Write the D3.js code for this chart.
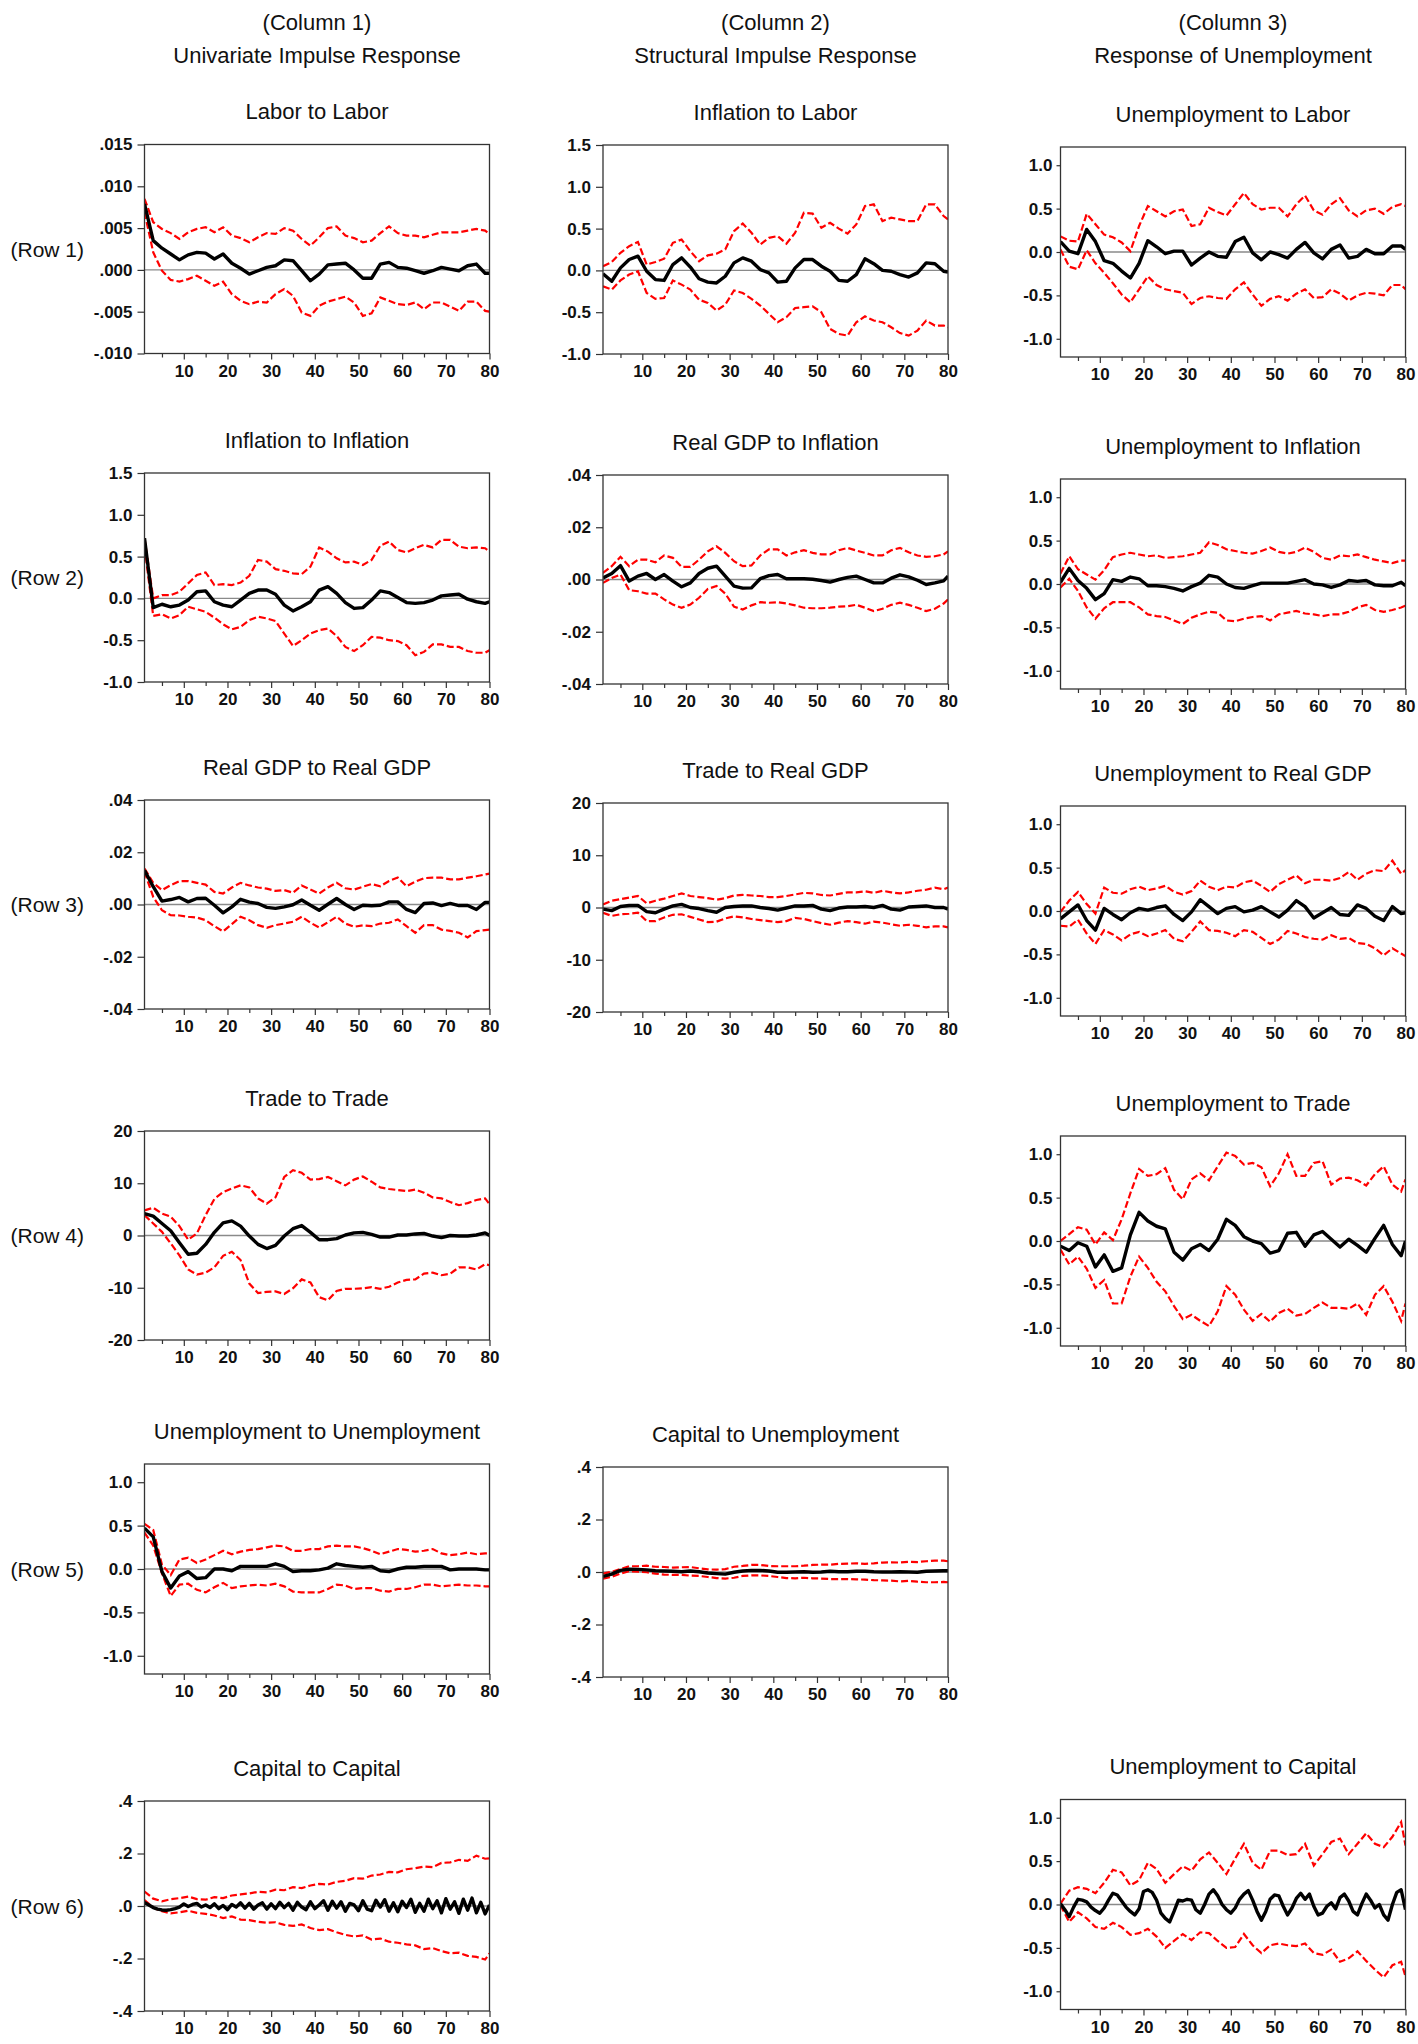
<!DOCTYPE html>
<html>
<head>
<meta charset="utf-8">
<script src="https://cdn.jsdelivr.net/npm/d3@7"></script>
<style>
  body { margin: 0; background: #fff; }
  svg { display: block; background: #fff; }
</style>
</head>
<body>
<svg id="chart" width="1418" height="2044"></svg>
<script>
// horizon grids: most series are read every second period, the zigzag ones every period
const periods = [1,3,5,7,9,11,13,15,17,19,21,23,25,27,29,31,33,35,37,39,41,43,45,47,49,51,53,55,57,59,61,63,65,67,69,71,73,75,77,79,80];
const periodsAll = [1,2,3,4,5,6,7,8,9,10,11,12,13,14,15,16,17,18,19,20,21,22,23,24,25,26,27,28,29,30,31,32,33,34,35,36,37,38,39,40,
  41,42,43,44,45,46,47,48,49,50,51,52,53,54,55,56,57,58,59,60,61,62,63,64,65,66,67,68,69,70,71,72,73,74,75,76,77,78,79,80];
const xTicks = [5,10,15,20,25,30,35,40,45,50,55,60,65,70,75,80];

const columnHeads = ["(Column 1)", "(Column 2)", "(Column 3)"];
const columnNames = ["Univariate Impulse Response", "Structural Impulse Response", "Response of Unemployment"];
const rowNames = ["(Row 1)", "(Row 2)", "(Row 3)", "(Row 4)", "(Row 5)", "(Row 6)"];

// Row 1
const laborLabor = [.0079,.0035,.0026,.0019,.0012,.0018,.0021,.0020,.0013,.0019,.0008,.0002,-.0005,-.0001,.0003,.0005,.0012,.0011,-.0001,-.0013,
  -.0005,.0006,.0007,.0008,.0000,-.0010,-.0010,.0007,.0009,.0003,.0002,-.0001,-.0004,-.0001,.0003,.0001,-.0001,.0005,.0007,-.0004,-.0004];
const laborLaborUp = [.0085,.0057,.0049,.0044,.0037,.0045,.0049,.0051,.0045,.0051,.0041,.0038,.0033,.0039,.0044,.0043,.0050,.0047,.0037,.0029,
  .0039,.0050,.0052,.0041,.0038,.0033,.0035,.0044,.0052,.0044,.0041,.0041,.0039,.0042,.0045,.0045,.0045,.0047,.0049,.0047,.0043];
const laborLaborLo = [.0069,.0021,-.0001,-.0012,-.0014,-.0011,-.0007,-.0013,-.0019,-.0014,-.0029,-.0037,-.0041,-.0038,-.0039,-.0029,-.0023,-.0031,-.0051,-.0055,
  -.0043,-.0038,-.0035,-.0032,-.0039,-.0055,-.0052,-.0033,-.0037,-.0041,-.0042,-.0039,-.0047,-.0039,-.0039,-.0044,-.0049,-.0038,-.0038,-.0049,-.0050];

const inflLabor = [-0.04,-0.13,0.03,0.13,0.17,-0.01,-0.11,-0.12,0.07,0.15,0.04,-0.10,-0.14,-0.15,-0.07,0.09,0.15,0.11,0.01,-0.03,
  -0.14,-0.13,0.03,0.13,0.13,0.05,-0.01,-0.12,-0.13,-0.05,0.14,0.08,0.0,-0.01,-0.05,-0.08,-0.03,0.09,0.08,-0.01,-0.02];
const inflLaborUp = [0.05,0.10,0.21,0.29,0.34,0.07,0.10,0.14,0.33,0.37,0.23,0.11,0.18,0.20,0.25,0.47,0.56,0.45,0.31,0.39,
  0.41,0.32,0.45,0.69,0.68,0.51,0.57,0.50,0.44,0.55,0.77,0.79,0.59,0.63,0.61,0.59,0.59,0.79,0.79,0.65,0.61];
const inflLaborLo = [-0.19,-0.23,-0.12,-0.05,-0.01,-0.27,-0.34,-0.33,-0.12,-0.17,-0.23,-0.35,-0.39,-0.48,-0.41,-0.24,-0.27,-0.34,-0.42,-0.52,
  -0.62,-0.56,-0.45,-0.44,-0.43,-0.50,-0.70,-0.76,-0.78,-0.62,-0.55,-0.60,-0.62,-0.68,-0.75,-0.78,-0.72,-0.60,-0.66,-0.66,-0.68];

const unempLabor = [0.12,0.01,-0.02,0.26,0.12,-0.10,-0.13,-0.22,-0.30,-0.13,0.13,0.06,-0.02,0.01,0.01,-0.15,-0.07,0.0,-0.05,-0.06,
  0.12,0.17,-0.01,-0.09,0.0,-0.03,-0.07,0.03,0.11,-0.01,-0.08,0.03,0.08,-0.07,-0.05,0.03,-0.02,-0.02,0.07,0.07,0.03];
const unempLaborUp = [0.18,0.13,0.12,0.44,0.32,0.20,0.17,0.11,0.01,0.30,0.53,0.47,0.41,0.47,0.49,0.30,0.32,0.51,0.46,0.42,
  0.55,0.68,0.55,0.49,0.51,0.51,0.41,0.55,0.65,0.48,0.43,0.55,0.62,0.48,0.41,0.48,0.50,0.44,0.52,0.55,0.53];
const unempLaborLo = [0.03,-0.17,-0.20,0.02,-0.13,-0.24,-0.36,-0.49,-0.58,-0.43,-0.28,-0.38,-0.43,-0.45,-0.47,-0.60,-0.53,-0.51,-0.53,-0.54,
  -0.43,-0.35,-0.49,-0.62,-0.54,-0.51,-0.56,-0.48,-0.43,-0.53,-0.52,-0.43,-0.48,-0.56,-0.50,-0.47,-0.48,-0.50,-0.38,-0.38,-0.43];

// Row 2
const inflInfl = [0.72,-0.11,-0.07,-0.10,-0.08,-0.02,0.08,0.09,-0.04,-0.08,-0.10,-0.02,0.06,0.10,0.10,0.05,-0.08,-0.15,-0.10,-0.04,
  0.10,0.14,0.06,-0.05,-0.12,-0.11,-0.02,0.09,0.07,0.01,-0.05,-0.06,-0.05,-0.02,0.03,0.04,0.05,-0.01,-0.04,-0.06,-0.04];
const inflInflUp = [0.72,0.0,0.04,0.04,0.08,0.18,0.28,0.31,0.16,0.17,0.16,0.19,0.27,0.46,0.44,0.35,0.33,0.30,0.29,0.38,
  0.61,0.56,0.48,0.43,0.44,0.40,0.46,0.63,0.68,0.58,0.55,0.60,0.64,0.61,0.70,0.70,0.62,0.60,0.61,0.60,0.56];
const inflInflLo = [0.62,-0.21,-0.19,-0.24,-0.20,-0.10,-0.13,-0.16,-0.23,-0.31,-0.37,-0.34,-0.26,-0.22,-0.24,-0.27,-0.42,-0.57,-0.50,-0.42,
  -0.38,-0.36,-0.45,-0.58,-0.63,-0.56,-0.46,-0.47,-0.50,-0.51,-0.56,-0.68,-0.64,-0.55,-0.55,-0.58,-0.58,-0.63,-0.65,-0.65,-0.62];

const gdpInfl = [.0006,.0023,.0053,-.0006,.0013,.0023,.0,.0019,-.0006,-.0028,-.0013,.0023,.0043,.0051,.0013,-.0025,-.0033,-.0032,.0003,.0015,
  .0019,.0003,.0003,.0003,.0001,-.0004,-.0010,.0,.0008,.0013,.0,-.0013,-.0013,.0005,.0018,.0010,-.0003,-.0019,-.0013,-.0005,.0013];
const gdpInflUp = [.0025,.0051,.0087,.0051,.0076,.0076,.0066,.0092,.0083,.0048,.0048,.0076,.0108,.0127,.0102,.0070,.0051,.0054,.0092,.0115,
  .0115,.0092,.0104,.0112,.0102,.0096,.0096,.0112,.0121,.0111,.0102,.0092,.0092,.0112,.0121,.0104,.0092,.0087,.0089,.0096,.0108];
const gdpInflLo = [-.0013,.0006,.0019,-.0041,-.0045,-.0054,-.0054,-.0076,-.0096,-.0108,-.0096,-.0070,-.0036,-.0025,-.0054,-.0104,-.0115,-.0099,-.0087,-.0089,
  -.0087,-.0092,-.0099,-.0108,-.0110,-.0110,-.0108,-.0104,-.0102,-.0097,-.0108,-.0121,-.0112,-.0097,-.0089,-.0097,-.0108,-.0121,-.0112,-.0092,-.0076];

const unempInfl = [0.02,0.18,0.04,-0.05,-0.18,-0.11,0.05,0.03,0.08,0.06,-0.02,-0.02,-0.03,-0.05,-0.08,-0.03,0.01,0.10,0.08,0.0,
  -0.04,-0.05,-0.02,0.01,0.01,0.01,0.01,0.03,0.05,0.0,-0.01,-0.04,-0.01,0.04,0.03,0.04,-0.01,-0.02,-0.02,0.02,-0.02];
const unempInflUp = [0.12,0.32,0.17,0.11,0.05,0.16,0.31,0.34,0.36,0.34,0.32,0.33,0.30,0.31,0.32,0.34,0.36,0.48,0.45,0.40,
  0.38,0.36,0.35,0.38,0.42,0.37,0.35,0.37,0.42,0.37,0.30,0.28,0.33,0.32,0.34,0.31,0.28,0.26,0.24,0.27,0.27];
const unempInflLo = [-0.04,0.06,-0.08,-0.27,-0.40,-0.28,-0.21,-0.21,-0.21,-0.27,-0.35,-0.37,-0.38,-0.42,-0.46,-0.39,-0.35,-0.32,-0.33,-0.42,
  -0.43,-0.40,-0.38,-0.37,-0.42,-0.35,-0.33,-0.31,-0.34,-0.35,-0.37,-0.35,-0.35,-0.32,-0.27,-0.24,-0.30,-0.32,-0.30,-0.27,-0.25];

// Row 3
const gdpGdp = [.0131,.0068,.0013,.0019,.0027,.0010,.0023,.0024,-.0003,-.0032,-.0009,.0020,.0009,.0004,-.0011,-.0015,-.0009,-.0001,.0017,-.0003,
  -.0022,.0001,.0023,.0,-.0019,-.0003,-.0005,-.0003,.0010,.0010,-.0019,-.0031,.0004,.0006,-.0004,.0004,-.0004,-.0004,-.0019,.0008,.0008];
const gdpGdpUp = [.0138,.0083,.0055,.0074,.0089,.0090,.0083,.0076,.0048,.0042,.0065,.0083,.0073,.0065,.0061,.0052,.0055,.0045,.0073,.0057,
  .0042,.0065,.0083,.0062,.0057,.0068,.0078,.0070,.0090,.0103,.0070,.0087,.0101,.0103,.0103,.0096,.0096,.0103,.0108,.0115,.0118];
const gdpGdpLo = [.0125,.0029,-.0022,-.0041,-.0042,-.0047,-.0050,-.0060,-.0083,-.0103,-.0075,-.0047,-.0060,-.0079,-.0089,-.0079,-.0073,-.0066,-.0047,-.0070,
  -.0088,-.0068,-.0047,-.0073,-.0085,-.0080,-.0083,-.0073,-.0070,-.0057,-.0083,-.0108,-.0079,-.0079,-.0096,-.0101,-.0108,-.0126,-.0102,-.0098,-.0096];

const tradeGdp = [-0.3,-0.6,0.2,0.4,0.4,-0.8,-1.0,-0.3,0.3,0.6,0.0,-0.2,-0.6,-0.9,0.0,0.2,0.3,0.3,0.0,-0.2,
  -0.5,-0.1,0.3,0.3,0.4,-0.3,-0.6,-0.1,0.1,0.1,0.2,0.0,0.4,-0.3,-0.5,0.1,0.2,0.3,0.0,0.0,-0.3];
const tradeGdpUp = [0.6,1.3,1.6,1.9,2.2,0.8,1.3,1.7,2.2,2.7,2.2,2.0,1.8,1.5,1.8,2.3,2.4,2.3,2.2,2.0,
  2.0,2.2,2.5,2.8,2.7,2.4,2.3,2.6,2.9,2.9,3.1,2.8,3.2,2.9,2.7,2.9,3.2,3.4,3.8,3.5,3.8];
const tradeGdpLo = [-1.0,-1.6,-1.3,-1.2,-1.0,-2.6,-2.6,-1.9,-1.4,-1.3,-1.8,-2.3,-2.8,-2.7,-2.1,-1.7,-1.9,-2.2,-2.4,-2.6,
  -2.8,-2.6,-2.0,-2.2,-2.6,-3.0,-3.3,-2.9,-2.6,-2.8,-3.1,-2.7,-2.9,-3.2,-3.5,-3.3,-3.5,-3.8,-3.6,-3.6,-3.8];

const unempGdp = [-0.09,-0.01,0.07,-0.11,-0.22,0.03,-0.04,-0.10,-0.02,0.03,0.01,0.04,0.06,-0.04,-0.11,-0.01,0.13,0.05,-0.03,0.03,
  0.05,-0.01,0.01,0.05,-0.01,-0.07,0.01,0.12,0.05,-0.08,-0.02,0.04,-0.04,-0.05,0.07,0.03,-0.06,-0.11,0.05,-0.03,-0.02];
const unempGdpUp = [-0.01,0.12,0.22,0.08,-0.03,0.27,0.21,0.20,0.25,0.28,0.24,0.26,0.29,0.22,0.19,0.23,0.35,0.28,0.24,0.28,
  0.27,0.33,0.35,0.29,0.22,0.31,0.36,0.41,0.32,0.36,0.36,0.35,0.38,0.45,0.36,0.43,0.47,0.46,0.58,0.43,0.47];
const unempGdpLo = [-0.17,-0.18,-0.10,-0.26,-0.38,-0.22,-0.27,-0.34,-0.27,-0.24,-0.29,-0.26,-0.22,-0.32,-0.35,-0.24,-0.12,-0.22,-0.23,-0.25,
  -0.29,-0.22,-0.24,-0.31,-0.38,-0.33,-0.23,-0.26,-0.30,-0.32,-0.33,-0.28,-0.32,-0.31,-0.37,-0.38,-0.43,-0.51,-0.43,-0.49,-0.52];

// Row 4
const tradeTrade = [4.2,3.7,2.3,0.9,-1.4,-3.6,-3.4,-1.7,0.6,2.4,2.8,1.8,-0.1,-1.7,-2.5,-1.9,-0.1,1.3,1.9,0.6,
  -0.8,-0.8,-0.6,0.1,0.5,0.6,0.2,-0.3,-0.3,0.1,0.1,0.3,0.4,-0.1,-0.4,0.0,-0.1,-0.1,0.1,0.5,0.0];
const tradeTradeUp = [4.8,5.3,4.2,3.6,1.8,-0.8,0.4,3.9,7.0,8.3,9.0,9.6,9.2,7.1,6.1,7.3,11.2,12.5,12.0,10.7,
  10.8,11.2,10.4,9.6,10.7,11.3,10.3,9.2,8.9,8.7,8.5,8.8,8.2,7.3,7.1,6.4,5.8,6.2,6.8,7.1,6.0];
const tradeTradeLo = [3.9,2.3,0.7,-1.5,-3.8,-6.5,-7.5,-7.1,-6.1,-3.9,-3.1,-4.7,-9.2,-11.0,-10.8,-10.7,-11.2,-10.1,-8.4,-9.0,
  -11.8,-12.4,-10.6,-10.2,-10.2,-10.1,-9.9,-10.2,-9.8,-9.0,-8.5,-8.4,-7.3,-7.1,-7.6,-7.3,-6.1,-6.1,-6.5,-5.5,-5.7];

const unempTrade = [-0.06,-0.11,-0.02,-0.06,-0.30,-0.16,-0.35,-0.31,0.07,0.33,0.23,0.17,0.14,-0.13,-0.22,-0.09,-0.04,-0.11,0.02,0.25,
  0.18,0.05,0.0,-0.03,-0.14,-0.11,0.09,0.10,-0.06,0.07,0.11,0.02,-0.07,0.02,-0.05,-0.13,0.03,0.18,-0.04,-0.17,0.0];
const unempTradeUp = [0.0,0.08,0.16,0.13,-0.04,0.10,0.01,0.25,0.55,0.83,0.75,0.77,0.84,0.59,0.48,0.71,0.78,0.70,0.86,1.02,
  0.98,0.88,0.90,0.85,0.63,0.78,1.00,0.75,0.75,0.90,0.92,0.65,0.72,0.73,0.70,0.64,0.77,0.86,0.65,0.57,0.71];
const unempTradeLo = [-0.10,-0.27,-0.18,-0.32,-0.54,-0.45,-0.72,-0.72,-0.41,-0.18,-0.31,-0.47,-0.58,-0.75,-0.90,-0.85,-0.92,-0.98,-0.81,-0.52,
  -0.62,-0.79,-0.92,-0.84,-0.93,-0.83,-0.78,-0.86,-0.84,-0.77,-0.71,-0.77,-0.77,-0.78,-0.72,-0.85,-0.62,-0.52,-0.70,-0.92,-0.72];

// Row 5
const unempUnemp = [0.47,0.37,-0.03,-0.22,-0.08,-0.03,-0.11,-0.10,0.0,0.0,-0.02,0.03,0.03,0.03,0.03,0.06,0.03,-0.03,-0.02,-0.02,
  -0.01,0.01,0.06,0.04,0.03,0.02,0.03,-0.02,-0.03,0.0,0.02,0.02,0.03,0.03,0.03,-0.01,0.0,0.0,0.0,-0.01,-0.01];
const unempUnempUp = [0.52,0.45,0.05,-0.07,0.11,0.13,0.07,0.11,0.16,0.21,0.17,0.20,0.22,0.23,0.25,0.27,0.26,0.21,0.21,0.23,
  0.23,0.26,0.27,0.26,0.26,0.24,0.21,0.17,0.20,0.23,0.22,0.20,0.21,0.23,0.18,0.16,0.17,0.19,0.17,0.18,0.18];
const unempUnempLo = [0.42,0.27,-0.05,-0.31,-0.18,-0.17,-0.24,-0.27,-0.21,-0.16,-0.22,-0.20,-0.19,-0.18,-0.19,-0.17,-0.20,-0.26,-0.27,-0.27,
  -0.27,-0.23,-0.18,-0.19,-0.23,-0.22,-0.22,-0.25,-0.26,-0.23,-0.23,-0.21,-0.18,-0.18,-0.20,-0.19,-0.18,-0.19,-0.19,-0.20,-0.20];

const capUnemp = [-0.017,-0.008,0.006,0.011,0.010,0.008,0.005,0.004,0.003,0.001,0.004,0.001,-0.004,-0.006,-0.008,-0.001,0.004,0.006,0.006,0.004,
  -0.001,-0.001,0.0,0.001,-0.001,0.0,0.003,0.001,0.001,0.003,0.003,0.001,0.0,0.0,0.001,0.0,-0.001,0.003,0.004,0.005,0.005];
const capUnempUp = [-0.006,0.001,0.011,0.022,0.022,0.024,0.020,0.019,0.017,0.018,0.019,0.014,0.010,0.009,0.011,0.020,0.023,0.027,0.027,0.023,
  0.022,0.022,0.022,0.024,0.027,0.028,0.028,0.031,0.032,0.033,0.031,0.033,0.036,0.037,0.036,0.039,0.038,0.041,0.043,0.043,0.041];
const capUnempLo = [-0.025,-0.018,-0.006,0.003,0.001,-0.001,-0.006,-0.010,-0.011,-0.011,-0.014,-0.015,-0.019,-0.023,-0.025,-0.022,-0.015,-0.013,-0.013,-0.015,
  -0.019,-0.023,-0.024,-0.022,-0.024,-0.025,-0.027,-0.027,-0.027,-0.028,-0.029,-0.031,-0.032,-0.033,-0.036,-0.034,-0.037,-0.039,-0.039,-0.038,-0.039];

// Row 6 (black lines read at every period, they zigzag)
const capCap = [.013,.004,-.006,-.012,-.015,-.016,-.014,-.010,-.004,.008,-.002,.006,.010,-.004,.004,-.006,.008,-.010,.002,-.014,
  .006,-.004,.012,-.008,.010,-.012,.004,.012,-.012,.008,-.010,.014,-.006,.010,-.016,.014,-.004,-.014,.016,-.010,
  .004,.020,-.016,.018,-.008,.016,-.020,.010,.004,-.018,.020,-.012,-.018,.022,-.004,.024,-.020,.012,-.022,.018,
  -.006,.026,-.024,.010,-.020,.026,-.010,.020,-.026,.028,-.012,.016,-.028,.026,-.016,.030,-.026,.014,-.030,.004];
const capCapUp = [.055,.028,.018,.026,.030,.036,.026,.024,.034,.030,.040,.044,.048,.054,.052,.062,.060,.072,.068,.078,
  .084,.082,.092,.096,.106,.104,.116,.120,.130,.128,.140,.144,.150,.148,.164,.166,.176,.172,.192,.180,.182];
const capCapLo = [.023,-.006,-.020,-.028,-.024,-.018,-.026,-.030,-.036,-.046,-.040,-.052,-.054,-.060,-.064,-.062,-.072,-.076,-.070,-.084,
  -.092,-.088,-.100,-.110,-.116,-.112,-.128,-.124,-.136,-.140,-.146,-.150,-.164,-.160,-.172,-.180,-.178,-.190,-.194,-.204,-.181];

const unempCap = [0.01,-0.06,-0.14,-0.03,0.06,0.05,0.03,-0.03,-0.07,-0.10,-0.04,0.05,0.13,0.11,0.04,-0.03,-0.08,-0.12,-0.05,0.15,
  0.17,0.14,0.05,-0.10,-0.16,-0.20,-0.08,0.05,0.04,0.06,0.05,-0.06,-0.10,0.0,0.12,0.17,0.10,0.0,-0.06,-0.10,
  -0.04,0.06,0.12,0.16,0.05,-0.08,-0.18,-0.08,0.06,0.11,0.10,-0.02,-0.12,-0.04,0.07,0.13,0.06,0.12,-0.02,-0.12,
  -0.10,-0.02,0.02,-0.05,0.08,0.12,0.04,-0.08,-0.12,0.01,0.12,0.05,-0.04,0.0,-0.12,-0.18,0.0,0.14,0.17,-0.06];
const unempCapUp = [0.01,0.16,0.20,0.18,0.13,0.25,0.40,0.37,0.22,0.28,0.48,0.41,0.25,0.35,0.44,0.39,0.52,0.60,0.48,0.35,
  0.53,0.70,0.48,0.40,0.62,0.62,0.57,0.58,0.70,0.45,0.58,0.72,0.76,0.58,0.70,0.82,0.70,0.66,0.78,0.95,0.68];
const unempCapLo = [-0.01,-0.20,-0.09,-0.16,-0.26,-0.28,-0.21,-0.26,-0.35,-0.33,-0.28,-0.37,-0.50,-0.42,-0.34,-0.41,-0.32,-0.33,-0.42,-0.50,
  -0.49,-0.34,-0.47,-0.56,-0.47,-0.45,-0.47,-0.48,-0.45,-0.56,-0.58,-0.52,-0.66,-0.62,-0.54,-0.65,-0.75,-0.84,-0.70,-0.66,-0.83];

// y-axis setups shared by several panels
const AX_LABOR = {domain: [-0.010, 0.015], ticks: [0.015, 0.010, 0.005, 0, -0.005, -0.010], fmt: ".3f", strip: true};
const AX_ONE5 = {domain: [-1.0, 1.5], ticks: [1.5, 1.0, 0.5, 0, -0.5, -1.0], fmt: ".1f", strip: false};
const AX_UNIT = {domain: [-1.21, 1.21], ticks: [1.0, 0.5, 0, -0.5, -1.0], fmt: ".1f", strip: false};
const AX_SMALL = {domain: [-0.04, 0.04], ticks: [0.04, 0.02, 0, -0.02, -0.04], fmt: ".2f", strip: true};
const AX_TWENTY = {domain: [-20, 20], ticks: [20, 10, 0, -10, -20], fmt: ".0f", strip: false};
const AX_FOUR = {domain: [-0.4, 0.4], ticks: [0.4, 0.2, 0, -0.2, -0.4], fmt: ".1f", strip: true};

const panels = [
  {title: "Labor to Labor", row: 0, col: 0, top: 144.5, h: 209, ax: AX_LABOR, mid: laborLabor, up: laborLaborUp, lo: laborLaborLo},
  {title: "Inflation to Labor", row: 0, col: 1, top: 145, h: 209, ax: AX_ONE5, mid: inflLabor, up: inflLaborUp, lo: inflLaborLo},
  {title: "Unemployment to Labor", row: 0, col: 2, top: 147, h: 210, ax: AX_UNIT, mid: unempLabor, up: unempLaborUp, lo: unempLaborLo},
  {title: "Inflation to Inflation", row: 1, col: 0, top: 473, h: 209, ax: AX_ONE5, mid: inflInfl, up: inflInflUp, lo: inflInflLo},
  {title: "Real GDP to Inflation", row: 1, col: 1, top: 475, h: 209, ax: AX_SMALL, mid: gdpInfl, up: gdpInflUp, lo: gdpInflLo},
  {title: "Unemployment to Inflation", row: 1, col: 2, top: 479, h: 210, ax: AX_UNIT, mid: unempInfl, up: unempInflUp, lo: unempInflLo},
  {title: "Real GDP to Real GDP", row: 2, col: 0, top: 800, h: 209, ax: AX_SMALL, mid: gdpGdp, up: gdpGdpUp, lo: gdpGdpLo},
  {title: "Trade to Real GDP", row: 2, col: 1, top: 803, h: 209, ax: AX_TWENTY, mid: tradeGdp, up: tradeGdpUp, lo: tradeGdpLo},
  {title: "Unemployment to Real GDP", row: 2, col: 2, top: 806, h: 210, ax: AX_UNIT, mid: unempGdp, up: unempGdpUp, lo: unempGdpLo},
  {title: "Trade to Trade", row: 3, col: 0, top: 1131, h: 209, ax: AX_TWENTY, mid: tradeTrade, up: tradeTradeUp, lo: tradeTradeLo},
  {title: "Unemployment to Trade", row: 3, col: 2, top: 1136, h: 210, ax: AX_UNIT, mid: unempTrade, up: unempTradeUp, lo: unempTradeLo},
  {title: "Unemployment to Unemployment", row: 4, col: 0, top: 1464, h: 210, ax: AX_UNIT, mid: unempUnemp, up: unempUnempUp, lo: unempUnempLo},
  {title: "Capital to Unemployment", row: 4, col: 1, top: 1467, h: 210, ax: AX_FOUR, mid: capUnemp, up: capUnempUp, lo: capUnempLo},
  {title: "Capital to Capital", row: 5, col: 0, top: 1801, h: 210, ax: AX_FOUR, mid: capCap, midX: periodsAll, up: capCapUp, lo: capCapLo},
  {title: "Unemployment to Capital", row: 5, col: 2, top: 1799.5, h: 210, ax: AX_UNIT, mid: unempCap, midX: periodsAll, up: unempCapUp, lo: unempCapLo}
];

const FONT = "'Liberation Sans', Arial, Helvetica, sans-serif";
const PLOT_W = 345;
const COL_LEFT = [144.5, 603, 1060.5];
const RED = "#ff0000";

var svg = d3.select("#chart");

function tickFormat(spec, strip) {
  var f = d3.format(spec);
  return function(v) {
    var s = f(v).replace("\u2212", "-");
    if (strip) s = s.replace(/^(-?)0\./, "$1.");
    return s;
  };
}

// column headers
columnHeads.forEach(function(t, i) {
  var cx = COL_LEFT[i] + PLOT_W / 2;
  svg.append("text").text(t)
     .attr("x", cx).attr("y", 22)
     .attr("text-anchor", "middle").attr("dominant-baseline", "central")
     .attr("font-family", FONT).attr("font-size", 22).attr("fill", "#111");
  svg.append("text").text(columnNames[i])
     .attr("x", cx).attr("y", 55)
     .attr("text-anchor", "middle").attr("dominant-baseline", "central")
     .attr("font-family", FONT).attr("font-size", 22).attr("fill", "#111");
});

panels.forEach(function(p, i) {
  var left = COL_LEFT[p.col];
  var g = svg.append("g").attr("transform", "translate(" + left + "," + p.top + ")");

  var x = d3.scaleLinear().domain([1, 80]).range([0, PLOT_W]);
  var y = d3.scaleLinear().domain(p.ax.domain).range([p.h, 0]);

  var clipId = "clip" + i;
  g.append("clipPath").attr("id", clipId)
   .append("rect").attr("width", PLOT_W).attr("height", p.h);

  var plot = g.append("g").attr("clip-path", "url(#" + clipId + ")");

  // zero line
  plot.append("line")
      .attr("x1", 0).attr("x2", PLOT_W)
      .attr("y1", y(0)).attr("y2", y(0))
      .attr("stroke", "#8a8a8a").attr("stroke-width", 1.3);

  var line = d3.line()
               .x(function(d) { return x(d[0]); })
               .y(function(d) { return y(d[1]); });

  var bandX = p.bandX || periods;
  var midX = p.midX || periods;

  [p.up, p.lo].forEach(function(s) {
    plot.append("path")
        .datum(d3.zip(bandX, s))
        .attr("d", line)
        .attr("fill", "none")
        .attr("stroke", RED)
        .attr("stroke-width", 2.2)
        .attr("stroke-dasharray", "7,3");
  });

  plot.append("path")
      .datum(d3.zip(midX, p.mid))
      .attr("d", line)
      .attr("fill", "none")
      .attr("stroke", "#000")
      .attr("stroke-width", 3.4)
      .attr("stroke-linejoin", "round");

  // frame
  g.append("rect")
   .attr("width", PLOT_W).attr("height", p.h)
   .attr("fill", "none").attr("stroke", "#333").attr("stroke-width", 1.3);

  // y axis
  var narrow = p.col === 2;
  var yAxis = d3.axisLeft(y)
                .tickValues(p.ax.ticks)
                .tickFormat(tickFormat(p.ax.fmt, p.ax.strip))
                .tickSize(narrow ? 4 : 7)
                .tickPadding(narrow ? 4 : 5);
  var ya = g.append("g").call(yAxis);
  ya.select(".domain").remove();
  ya.selectAll("line").attr("stroke", "#333").attr("stroke-width", 1.2);
  ya.selectAll("text")
    .attr("font-family", FONT).attr("font-size", 17).attr("font-weight", "bold").attr("fill", "#111");

  // x axis
  var xAxis = d3.axisBottom(x)
                .tickValues(xTicks)
                .tickFormat(function(d) { return d % 10 === 0 ? d : ""; })
                .tickSize(6)
                .tickPadding(5);
  var xa = g.append("g").attr("transform", "translate(0," + p.h + ")").call(xAxis);
  xa.select(".domain").remove();
  xa.selectAll("line").attr("stroke", "#333").attr("stroke-width", 1.2)
    .attr("y2", function(d) { return d % 10 === 0 ? 6 : 4; });
  xa.selectAll("text")
    .attr("font-family", FONT).attr("font-size", 17).attr("font-weight", "bold").attr("fill", "#111");

  // title
  g.append("text").text(p.title)
   .attr("x", PLOT_W / 2).attr("y", -33)
   .attr("text-anchor", "middle").attr("dominant-baseline", "central")
   .attr("font-family", FONT).attr("font-size", 22).attr("fill", "#111");
});

// row labels sit at the middle of the first column panel
rowNames.forEach(function(t, r) {
  var p = panels.find(function(d) { return d.row === r && d.col === 0; });
  svg.append("text").text(t)
     .attr("x", 84).attr("y", p.top + p.h / 2)
     .attr("text-anchor", "end").attr("dominant-baseline", "central")
     .attr("font-family", FONT).attr("font-size", 21).attr("fill", "#111");
});
</script>
